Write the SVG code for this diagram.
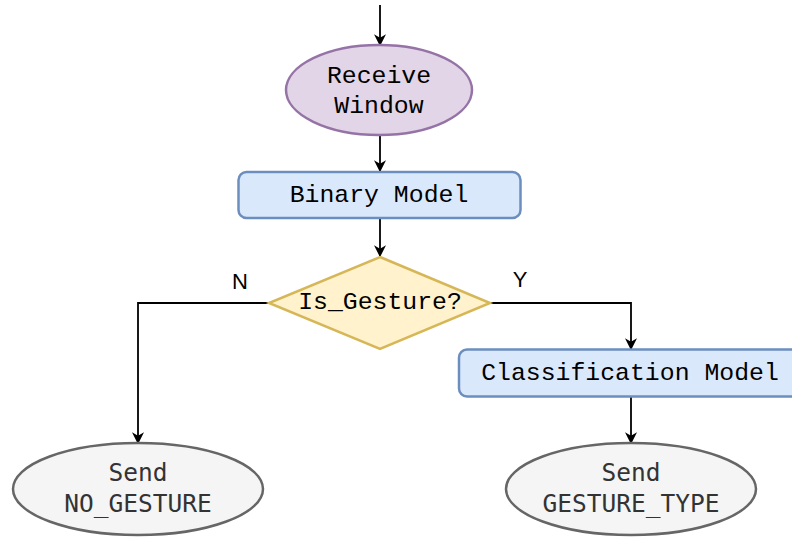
<svg xmlns="http://www.w3.org/2000/svg" width="792" height="537" viewBox="0 0 792 537">
  <style>
    .mono { font-family: "Liberation Mono", "Courier New", monospace; font-size: 24.8px; fill: #000; text-anchor: middle; }
    .soft { font-family: "DejaVu Sans Mono", monospace; font-size: 24.5px; fill: #333; text-anchor: middle; }
    .lbl { font-family: "Liberation Sans", Arial, sans-serif; font-size: 22px; fill: #000; text-anchor: middle; }
    .edge { fill: none; stroke: #000; stroke-width: 1.8; }
    .arr { marker-end: url(#head); }
  </style>
  <defs>
    <marker id="head" viewBox="0 0 10 10" refX="9" refY="5" markerUnits="userSpaceOnUse" markerWidth="12" markerHeight="12" orient="auto">
      <path d="M0,0 L10,5 L0,10 L3,5 Z" fill="#000"/>
    </marker>
  </defs>

  <g id="connectors">
    <path class="edge arr" d="M380,5 L380,45"/>
    <path class="edge arr" d="M380,135 L380,171"/>
    <path class="edge arr" d="M380,218 L380,256"/>
    <path class="edge arr" d="M269,303 L138,303 L138,443"/>
    <path class="edge arr" d="M490,303 L631,303 L631,349"/>
    <path class="edge arr" d="M631,397 L631,443"/>
    <text class="lbl" x="240" y="289">N</text>
    <text class="lbl" x="520" y="287">Y</text>
  </g>

  <g id="receive-window">
    <ellipse cx="379" cy="90" rx="93" ry="45" fill="#e1d5e7" stroke="#9673a6" stroke-width="2.5"/>
    <text class="mono" x="379" y="83">Receive</text>
    <text class="mono" x="379" y="113">Window</text>
  </g>

  <g id="binary-model">
    <rect x="238.5" y="172" width="282" height="46" rx="8" fill="#dae8fc" stroke="#6c8ebf" stroke-width="2.5"/>
    <text class="mono" x="379" y="202">Binary Model</text>
  </g>

  <g id="is-gesture">
    <polygon points="380,257 490,303 380,349 269,303" fill="#fff2cc" stroke="#d6b656" stroke-width="2.5"/>
    <text class="mono" x="380" y="309">Is_Gesture?</text>
  </g>

  <g id="classification-model">
    <rect x="459" y="349.5" width="344" height="47" rx="8" fill="#dae8fc" stroke="#6c8ebf" stroke-width="2.5"/>
    <text class="mono" x="630" y="380">Classification Model</text>
  </g>

  <g id="send-no-gesture">
    <ellipse cx="138" cy="489" rx="125" ry="46" fill="#f5f5f5" stroke="#666666" stroke-width="2.5"/>
    <text class="soft" x="138" y="481">Send</text>
    <text class="soft" x="138" y="512">NO_GESTURE</text>
  </g>

  <g id="send-gesture-type">
    <ellipse cx="631" cy="489" rx="125" ry="46" fill="#f5f5f5" stroke="#666666" stroke-width="2.5"/>
    <text class="soft" x="631" y="481">Send</text>
    <text class="soft" x="631" y="512">GESTURE_TYPE</text>
  </g>
</svg>
